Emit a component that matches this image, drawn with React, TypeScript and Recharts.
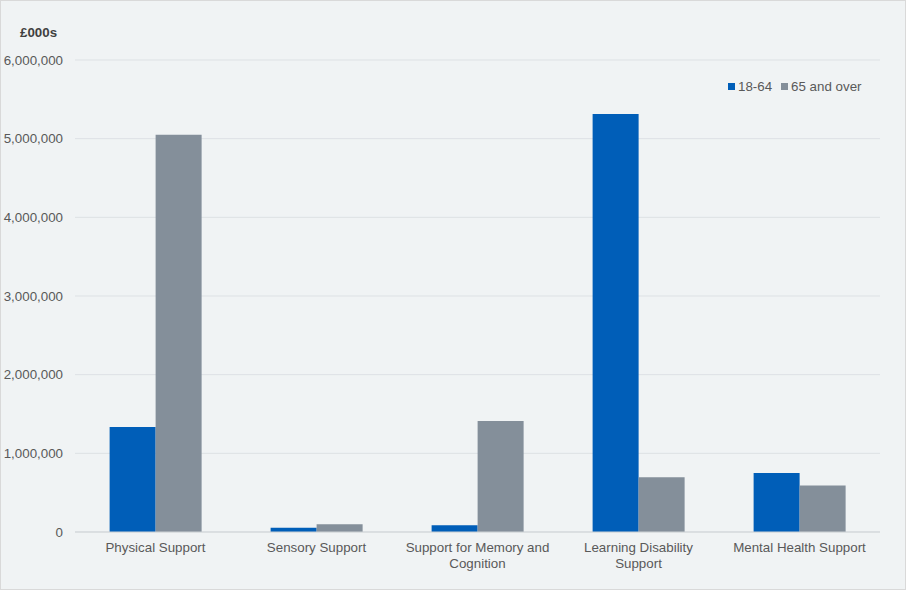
import React from "react";
import { BarChart, Bar, XAxis, YAxis, CartesianGrid } from "recharts";

const categories = [
  "Physical Support",
  "Sensory Support",
  "Support for Memory and Cognition",
  "Learning Disability Support",
  "Mental Health Support",
];
// how each category label is broken over lines on the axis
const categoryLines = [
  ["Physical Support"],
  ["Sensory Support"],
  ["Support for Memory and", "Cognition"],
  ["Learning Disability", "Support"],
  ["Mental Health Support"],
];
const age18to64 = [1335000, 55000, 85000, 5315000, 750000];
const age65plus = [5050000, 98000, 1410000, 695000, 590000];
const yTicks = [0, 1000000, 2000000, 3000000, 4000000, 5000000, 6000000];

const BLUE = "#005EB8";
const GREY = "#848F9A";
const TEXT = "#595959";
const FONT = "'Liberation Sans', Arial, sans-serif";

const data = categories.map((name, i) => ({
  name,
  young: age18to64[i],
  old: age65plus[i],
}));

const CategoryTick = (props: any) => {
  const { x, y, payload } = props;
  const lines = categoryLines[categories.indexOf(payload.value)] || [payload.value];
  return (
    <text x={x} y={y} textAnchor="middle" fill={TEXT} fontSize={13.33} fontFamily={FONT}>
      {lines.map((l, i) => (
        <tspan key={i} x={x} dy={i === 0 ? "0.9em" : 16}>
          {l}
        </tspan>
      ))}
    </text>
  );
};

export default function App() {
  return (
    <div
      style={{
        position: "fixed",
        left: 0,
        top: 0,
        width: 906,
        height: 590,
        boxSizing: "border-box",
        border: "1px solid #d9d9d9",
        background: "#f0f3f4",
      }}
    >
      <div
        style={{
          position: "absolute",
          left: 19,
          top: 24,
          fontFamily: FONT,
          fontSize: 13.33,
          fontWeight: "bold",
          color: "#404040",
        }}
      >
        £000s
      </div>
      <div
        style={{
          position: "absolute",
          left: 727,
          top: 78,
          display: "flex",
          alignItems: "center",
          fontFamily: FONT,
          fontSize: 13.33,
          color: TEXT,
          zIndex: 2,
        }}
      >
        <span style={{ width: 7, height: 7, background: BLUE, marginRight: 3 }} />
        <span style={{ marginRight: 9 }}>18-64</span>
        <span style={{ width: 7, height: 7, background: GREY, marginRight: 3 }} />
        <span>65 and over</span>
      </div>
      <div style={{ position: "absolute", left: -1, top: -1 }}>
        <BarChart
          width={906}
          height={590}
          data={data}
          margin={{ top: 60, right: 26, left: 0, bottom: 0 }}
          barCategoryGap="21.5%"
          barGap={0}
        >
          <CartesianGrid vertical={false} stroke="#dde1e4" />
          <XAxis
            dataKey="name"
            height={58}
            tickLine={false}
            axisLine={{ stroke: "#cfd3d6" }}
            interval={0}
            tick={<CategoryTick />}
            tickMargin={2}
          />
          <YAxis
            width={75}
            domain={[0, 6000000]}
            ticks={yTicks}
            axisLine={false}
            tickLine={false}
            tickSize={0}
            tickMargin={12}
            tickFormatter={(v: number) => v.toLocaleString("en-GB")}
            tick={{ fill: TEXT, fontSize: 13.33, fontFamily: FONT }}
          />
          <Bar dataKey="young" name="18-64" fill={BLUE} isAnimationActive={false} />
          <Bar dataKey="old" name="65 and over" fill={GREY} isAnimationActive={false} />
        </BarChart>
      </div>
    </div>
  );
}
